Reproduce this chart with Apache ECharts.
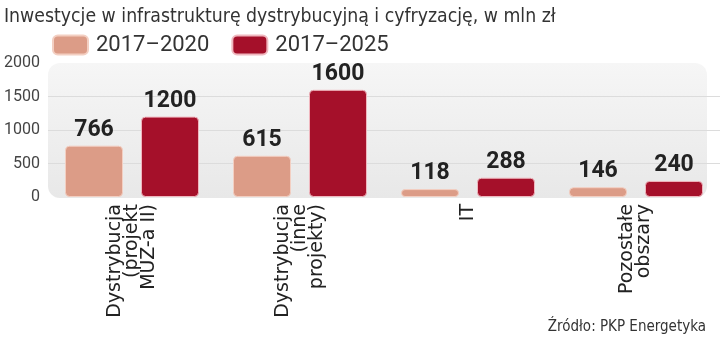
<!DOCTYPE html>
<html>
<head>
<meta charset="utf-8">
<script src="https://cdn.jsdelivr.net/npm/echarts@6/dist/echarts.min.js"></script>
<style>
html,body{margin:0;padding:0;background:#fff;}
#c{width:720px;height:339px;}
</style>
</head>
<body>
<div id="c"></div>
<script>
const title = 'Inwestycje w infrastrukturę dystrybucyjną i cyfryzację, w mln zł';
const source = 'Źródło: PKP Energetyka';
const categories = ['Dystrybucja\n(projekt\nMUZ-a II)', 'Dystrybucja\n(inne\nprojekty)', 'IT', 'Pozostałe\nobszary'];
const seriesNames = ['2017–2020', '2017–2025'];
const values2020 = [766, 615, 118, 146];
const values2025 = [1200, 1600, 288, 240];
const yTicks = [0, 500, 1000, 1500, 2000];

const chart = echarts.init(document.getElementById('c'), null, {renderer: 'canvas'});
const labelStyle = {
  show: true, position: 'top', distance: 4,
  fontFamily: 'Roboto', fontWeight: 'bold', fontSize: 23, color: '#222'
};
const narrow = '"DejaVu Sans Condensed", "Roboto", sans-serif';
chart.setOption({
  animation: false,
  backgroundColor: '#fff',
  title: {
    text: title, left: -1, top: 2,
    textStyle: {fontFamily: narrow, fontWeight: 'normal', fontSize: 19.3, color: '#333'}
  },
  legend: {
    left: 47, top: 29, itemWidth: 35, itemHeight: 19, itemGap: 22,
    icon: 'roundRect',
    textStyle: {fontFamily: 'Roboto', fontSize: 22, color: '#333', padding: [0, 0, 0, 3]},
    data: seriesNames
  },
  graphic: [
    {type: 'rect', z: -10, shape: {x: 48, y: 63, width: 659, height: 135, r: 12},
     style: {fill: new echarts.graphic.LinearGradient(0, 0, 0, 1, [
       {offset: 0, color: '#f6f6f6'}, {offset: 1, color: '#e8e8e8'}])}},
    {type: 'text', right: 14, bottom: 4,
     style: {text: source, font: '15px ' + narrow, fill: '#333'}}
  ],
  grid: {left: 48, right: 0, top: 63, bottom: 142, containLabel: false},
  xAxis: {
    type: 'category', data: categories,
    axisLine: {show: false}, axisTick: {show: false},
    axisLabel: {rotate: 90, margin: 7, fontFamily: 'DejaVu Sans', fontSize: 19, lineHeight: 17, color: '#222', interval: 0}
  },
  yAxis: {
    type: 'value', min: yTicks[0], max: yTicks[yTicks.length - 1], interval: 500,
    axisLine: {show: false}, axisTick: {show: false},
    axisLabel: {fontFamily: 'Roboto', fontSize: 16, color: '#444', margin: 8, formatter: v => String(v)},
    splitLine: {lineStyle: {color: ['rgba(0,0,0,0)', '#dcdcdc', '#dcdcdc', '#dcdcdc', 'rgba(0,0,0,0)'], width: 1}}
  },
  series: [
    {name: seriesNames[0], type: 'bar', data: values2020, barWidth: 58, barGap: '31%',
     itemStyle: {color: '#dc9c87', borderColor: '#f3cfc2', borderWidth: 1, borderRadius: 4},
     label: labelStyle},
    {name: seriesNames[1], type: 'bar', data: values2025, barWidth: 58, barGap: '31%',
     itemStyle: {color: '#a5102a', borderColor: '#f0b8bf', borderWidth: 1, borderRadius: 4},
     label: labelStyle}
  ]
});
</script>
</body>
</html>
